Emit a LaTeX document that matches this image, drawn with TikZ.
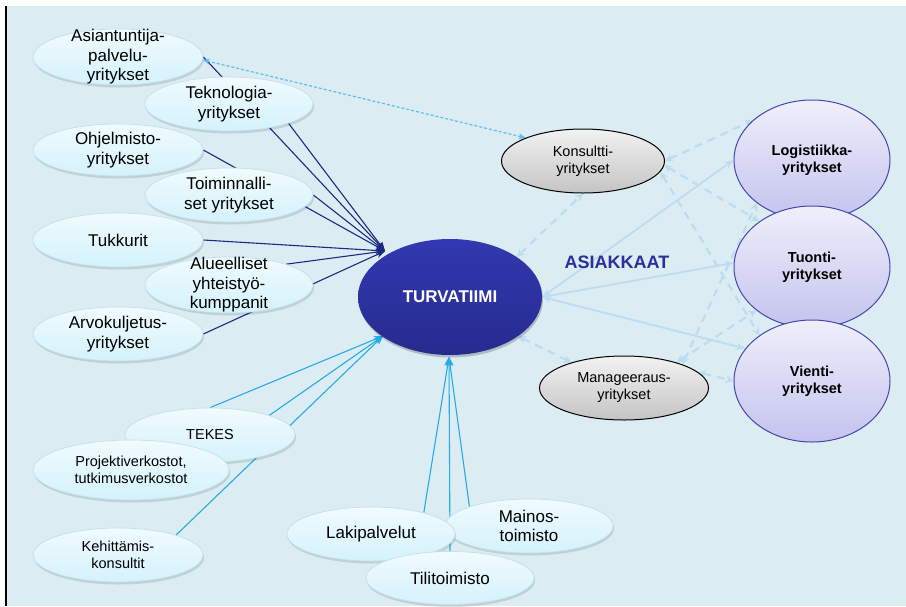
\documentclass[tikz,border=0pt]{standalone}
\usepackage{fontspec}
\setmainfont{Liberation Sans}
\usetikzlibrary{shapes.geometric,arrows.meta,shadows}
\pgfdeclarelayer{bg}
\pgfdeclarelayer{edges}
\pgfsetlayers{bg,edges,main}
\definecolor{bgc}{HTML}{DBEDF3}
\definecolor{litetop}{HTML}{F0FBFE}
\definecolor{litebot}{HTML}{D4F2FB}
\definecolor{liteline}{HTML}{C2E0EA}
\definecolor{lavtop}{HTML}{EFEFFB}
\definecolor{lavbot}{HTML}{C3C3EE}
\definecolor{lavline}{HTML}{4545B0}
\definecolor{greytop}{HTML}{F2F2F2}
\definecolor{greybot}{HTML}{C4C4C4}
\definecolor{turtop}{HTML}{3238B0}
\definecolor{turbot}{HTML}{262B8E}
\definecolor{navyc}{HTML}{1B2A80}
\definecolor{cyanc}{HTML}{26A9E6}
\definecolor{palec}{HTML}{BDDCF0}
\definecolor{dotc}{HTML}{5BBEF0}
\definecolor{asiakc}{HTML}{2B2F9A}
\tikzset{
  bub/.style={ellipse, inner sep=0pt},
  lite/.style={bub, draw=liteline, line width=0.7pt, top color=litetop, bottom color=litebot,
    drop shadow={shadow xshift=1pt, shadow yshift=-2.5pt, opacity=0.12, fill=black}},
  greyb/.style={bub, draw=black, line width=1pt, top color=greytop, bottom color=greybot},
  lav/.style={bub, draw=lavline, line width=1pt, top color=lavtop, bottom color=lavbot},
  turb/.style={bub, top color=turtop, bottom color=turbot,
    drop shadow={shadow xshift=1pt, shadow yshift=-2.5pt, opacity=0.2, fill=black}},
  txt/.style={align=center, inner sep=0pt, text=black, font=\fontsize{17}{19.5}\selectfont},
  stxt/.style={align=center, inner sep=0pt, text=black, font=\fontsize{14.5}{17}\selectfont},
  btxt/.style={align=center, inner sep=0pt, text=black, font=\bfseries\fontsize{14.5}{17.5}\selectfont},
  navy/.style={draw=navyc, line width=1.1pt, -{Stealth[length=9pt,width=7pt]}},
  cyanl/.style={draw=cyanc, line width=1.1pt, -{Stealth[length=9pt,width=7pt]}},
  pale/.style={draw=palec, line width=1.8pt, {Stealth[length=9pt,width=7pt]}-{Stealth[length=9pt,width=7pt]}},
  dsh/.style={draw=palec, line width=2.2pt, dash pattern=on 8pt off 6pt, {Stealth[length=8pt,width=8pt]}-{Stealth[length=8pt,width=8pt]}},
  dots/.style={draw=dotc, line width=1.2pt, dash pattern=on 3pt off 2pt, {Stealth[length=7pt,width=6pt]}-{Stealth[length=7pt,width=6pt]}}
}
\begin{document}
\begin{tikzpicture}[x=1pt,y=-1pt]
\useasboundingbox (0,0) rectangle (906,606);
\begin{pgfonlayer}{bg}
\fill[white] (0,0) rectangle (906,606);
\fill[bgc] (7,5.5) rectangle (906,606);
\fill[black] (4.5,5.5) rectangle (7,606);
\end{pgfonlayer}

% left column
\node[lite, minimum width=170pt, minimum height=56pt] (asi) at (118,57) {};
\node[txt] (asi-t) at (asi) {Asiantuntija-\\palvelu-\\yritykset};
\node[lite, minimum width=168pt, minimum height=54pt] (tek) at (229,104) {};
\node[txt] (tek-t) at (tek) {Teknologia-\\yritykset};
\node[lite, minimum width=170pt, minimum height=52pt] (ohj) at (118,150) {};
\node[txt] (ohj-t) at (ohj) {Ohjelmisto-\\yritykset};
\node[lite, minimum width=168pt, minimum height=54pt] (toi) at (229,195) {};
\node[txt] (toi-t) at (toi) {Toiminnalli-\\set yritykset};
\node[lite, minimum width=170pt, minimum height=54pt] (tuk) at (118,240) {};
\node[txt] (tuk-t) at (tuk) {Tukkurit};
\node[lite, minimum width=170pt, minimum height=54pt] (arv) at (118,334) {};
\node[txt] (arv-t) at (arv) {Arvokuljetus-\\yritykset};
\node[lite, minimum width=168pt, minimum height=56pt] (alu) at (229,285) {};
\node[txt] (alu-t) at (alu) {Alueelliset\\yhteistyö-\\kumppanit};

% lower left
\node[lite, minimum width=170pt, minimum height=54pt] (tks) at (210,435) {};
\node[stxt] (tks-t) at (tks) {TEKES};
\node[lite, minimum width=196pt, minimum height=60pt] (pro) at (131,470) {};
\node[stxt] (pro-t) at (pro) {Projektiverkostot,\\tutkimusverkostot};
\node[lite, minimum width=170pt, minimum height=54pt] (keh) at (118,555) {};
\node[stxt] (keh-t) at (keh) {Kehittämis-\\konsultit};

% bottom
\node[lite, minimum width=168pt, minimum height=54pt] (mai) at (529,526) {};
\node[txt] (mai-t) at (mai) {Mainos-\\toimisto};
\node[lite, minimum width=168pt, minimum height=54pt] (lak) at (371,534) {};
\node[txt] (lak-t) at (lak) {Lakipalvelut};
\node[lite, minimum width=168pt, minimum height=53pt] (til) at (450,578) {};
\node[txt] (til-t) at (til) {Tilitoimisto};

% centre
\node[turb, minimum width=184pt, minimum height=116pt] (tur) at (450,297) {};
\node[txt, text=white, font=\bfseries\fontsize{17}{20}\selectfont] (tur-t) at (tur) {TURVATIIMI};

% grey
\node[greyb, minimum width=163pt, minimum height=64pt] (kon) at (583,161) {};
\node[stxt] (kon-t) at (kon) {Konsultti-\\yritykset};
\node[greyb, minimum width=169pt, minimum height=64pt] (man) at (624,388) {};
\node[stxt] (man-t) at (man) {Manageeraus-\\yritykset};

% customers
\node[lav, minimum width=156pt, minimum height=120pt] (log) at (812,160) {};
\node[btxt] (log-t) at (log) {Logistiikka-\\yritykset};
\node[lav, minimum width=156pt, minimum height=122pt] (tuo) at (812,267) {};
\node[btxt] (tuo-t) at (tuo) {Tuonti-\\yritykset};
\node[lav, minimum width=156pt, minimum height=122pt] (vie) at (812,381) {};
\node[btxt] (vie-t) at (vie) {Vienti-\\yritykset};

\node[text=asiakc, font=\bfseries\fontsize{18}{20}\selectfont, inner sep=0pt] (asiak) at (617,262) {ASIAKKAAT};

\coordinate (hubA) at (385,251);
\coordinate (hubB) at (383,336);
\coordinate (hubC) at (449,357);

\begin{pgfonlayer}{edges}
\draw[navy] (asi.east) -- (hubA);
\draw[navy] (tek.-18) -- (hubA);
\draw[navy] (ohj.east) -- (hubA);
\draw[navy] (toi.east) -- (hubA);
\draw[navy] (tuk.east) -- (hubA);
\draw[navy] (alu.20) -- (hubA);
\draw[navy] (arv.east) -- (hubA);
\draw[cyanl] (tks.north) -- (hubB);
\draw[cyanl] (pro.11) -- (hubB);
\draw[cyanl] (keh.19) -- (hubB);
\draw[cyanl] (lak.22) -- (hubC);
\draw[cyanl] (til.north) -- (hubC);
\draw[cyanl] (mai.162) -- (hubC);
\draw[pale] (tur.east) -- (log.west);
\draw[pale] (tur.east) -- (tuo.177);
\draw[pale] (tur.east) -- (vie.154);
\draw[dsh] (tur.31) -- (kon.south);
\draw[dsh] (tur.-30) -- (man.154);
\draw[dsh] (kon.east) -- (log.146);
\draw[dsh] (kon.-3) -- (tuo.139);
\draw[dsh] (kon.-8) -- (vie.139);
\draw[dsh] (man.22) -- (log.218);
\draw[dsh] (man.26) -- (tuo.218);
\draw[dsh] (man.12) -- (vie.180);
\draw[dots] (asi.-2) -- (kon.158);
\end{pgfonlayer}
\end{tikzpicture}
\end{document}
